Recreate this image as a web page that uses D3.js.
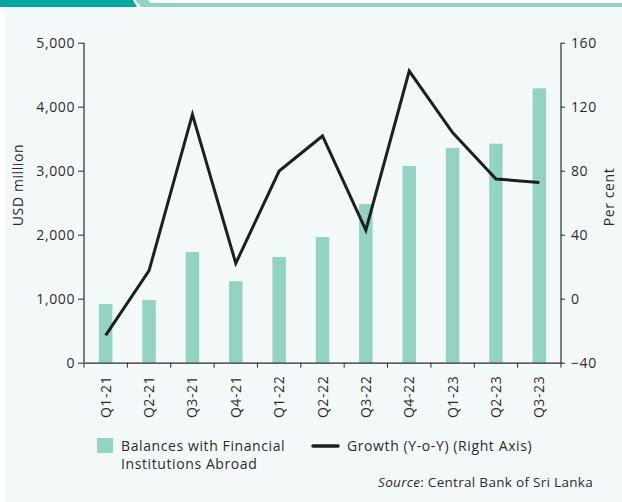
<!DOCTYPE html>
<html><head><meta charset="utf-8">
<script src="https://cdn.jsdelivr.net/npm/d3@7"></script>
<style>
html,body{margin:0;padding:0;background:#fff;}
svg{display:block;}
text{font-family:"Open Sans",sans-serif;fill:#2b2b2b;letter-spacing:0.6px;}
</style></head>
<body>
<script>
const categories = ["Q1-21","Q2-21","Q3-21","Q4-21","Q1-22","Q2-22","Q3-22","Q4-22","Q1-23","Q2-23","Q3-23"];
const balances = [917, 980, 1730, 1272, 1652, 1964, 2480, 3073, 3355, 3422, 4287];
const growth = [-22.9, 17.5, 115.2, 22.1, 79.8, 101.7, 42.9, 142.3, 103.8, 74.8, 72.7];
const leftTicks = [0, 1000, 2000, 3000, 4000, 5000];
const rightTicks = [-40, 0, 40, 80, 120, 160];

const W = 622, H = 502;
const FS = 14;
const m = {left: 84, right: 561, top: 42.7, bottom: 362.7};
const svg = d3.select("body").append("svg").attr("width", W).attr("height", H);

// panel background & header strip
svg.append("rect").attr("x", 5).attr("y", 7).attr("width", W - 5).attr("height", H - 7).attr("fill", "#f3f9f9");
svg.append("polygon").attr("points", "0,0 133,0 137,7 0,7").attr("fill", "#00a79e");
svg.append("polygon").attr("points", "135,0 148,0 154,7 141,7").attr("fill", "#8fd3c2");
svg.append("rect").attr("x", 150).attr("y", 3).attr("width", W - 150).attr("height", 4).attr("fill", "#8fd3c2");

const x = d3.scaleBand().domain(categories).range([m.left, m.right]).paddingInner(0).paddingOuter(0);
const yL = d3.scaleLinear().domain([0, 5000]).range([m.bottom, m.top]);
const yR = d3.scaleLinear().domain([-40, 160]).range([m.bottom, m.top]);
const barW = 13.5;

// bars
svg.append("g").selectAll("rect").data(categories).join("rect")
  .attr("x", (d) => x(d) + x.bandwidth() / 2 - barW / 2)
  .attr("y", (d, i) => yL(balances[i]))
  .attr("width", barW)
  .attr("height", (d, i) => yL(0) - yL(balances[i]))
  .attr("fill", "#93d3c3");

// line
const line = d3.line().x((d, i) => x(categories[i]) + x.bandwidth() / 2).y((d) => yR(d));
svg.append("path").datum(growth).attr("d", line)
  .attr("fill", "none").attr("stroke", "#1c211f").attr("stroke-width", 3).attr("stroke-linejoin", "miter");

// axes
const fmt = d3.format(",");
const gL = svg.append("g").attr("transform", `translate(${m.left},0)`)
  .call(d3.axisLeft(yL).tickValues(leftTicks).tickFormat(fmt).tickSize(6).tickPadding(3));
const gR = svg.append("g").attr("transform", `translate(${m.right},0)`)
  .call(d3.axisRight(yR).tickValues(rightTicks).tickSize(4).tickPadding(6));
const gX = svg.append("g").attr("transform", `translate(0,${m.bottom})`)
  .call(d3.axisBottom(x).tickSize(0).tickFormat(""));
// category boundary ticks
svg.append("g").selectAll("line").data(d3.range(categories.length + 1)).join("line")
  .attr("x1", (i) => m.left + i * x.step()).attr("x2", (i) => m.left + i * x.step())
  .attr("y1", m.bottom).attr("y2", m.bottom + 5).attr("stroke", "#2b2b2b");
// category labels
svg.append("g").selectAll("text").data(categories).join("text")
  .attr("transform", (d) => `translate(${x(d) + x.bandwidth() / 2 + 5},${m.bottom + 13}) rotate(-90)`)
  .attr("text-anchor", "end").attr("font-size", FS).text((d) => d);

[gL, gR, gX].forEach((g) => {
  g.selectAll("path.domain").attr("stroke", "#2b2b2b").attr("stroke-width", 1.2);
  g.selectAll(".tick line").attr("stroke", "#2b2b2b");
  g.selectAll(".tick text").attr("font-size", FS).attr("fill", "#2b2b2b").style("font-family", '"Open Sans",sans-serif');
});
gL.select("path.domain").attr("d", `M0,${m.top}V${m.bottom}`);
gR.select("path.domain").attr("d", `M0,${m.top}V${m.bottom}`);

// axis titles
svg.append("text").attr("transform", "translate(23,185) rotate(-90)").attr("text-anchor", "middle")
  .attr("font-size", FS).text("USD million");
svg.append("text").attr("transform", "translate(614,197) rotate(-90)").attr("text-anchor", "middle")
  .attr("font-size", FS).text("Per cent");

// legend
svg.append("rect").attr("x", 97).attr("y", 438).attr("width", 16).attr("height", 15).attr("fill", "#93d3c3");
svg.append("text").attr("x", 121).attr("y", 451).attr("font-size", FS).text("Balances with Financial");
svg.append("text").attr("x", 121).attr("y", 469).attr("font-size", FS).text("Institutions Abroad");
svg.append("line").attr("x1", 313).attr("x2", 338).attr("y1", 446).attr("y2", 446)
  .attr("stroke", "#1c211f").attr("stroke-width", 3.5).attr("stroke-linecap", "round");
svg.append("text").attr("x", 347).attr("y", 451).attr("font-size", FS).text("Growth (Y-o-Y) (Right Axis)");

// source
const src = svg.append("text").attr("x", 593).attr("y", 487).attr("text-anchor", "end")
  .attr("font-size", 13.5).style("letter-spacing", "0.3px");
src.append("tspan").attr("font-style", "italic").text("Source");
src.append("tspan").text(": Central Bank of Sri Lanka");
</script>
</body></html>
